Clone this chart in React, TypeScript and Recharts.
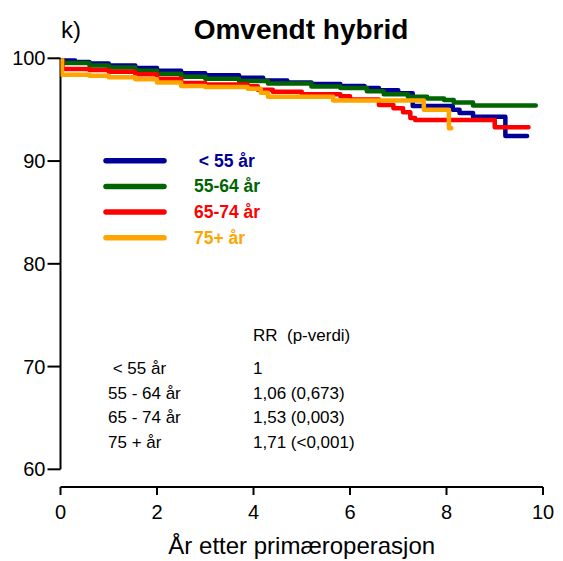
import React from 'react'
import { LineChart, Line, XAxis, YAxis, ReferenceLine, Legend, Label } from 'recharts'

// Kaplan-Meier step points (years, % without revision)
const T_LT55 = [0, 0.05, 0.3, 0.6, 1.0, 1.55, 2.0, 2.5, 3.0, 3.7, 4.2, 4.7, 5.2, 5.8, 6.3, 6.6, 7.0, 7.3, 8.13, 8.27, 8.55, 9.22, 9.67]
const S_LT55 = [100, 99.8, 99.65, 99.5, 99.3, 99.05, 98.8, 98.55, 98.35, 98.1, 97.85, 97.65, 97.5, 97.3, 97.1, 96.9, 96.6, 95.35, 95.0, 94.68, 94.32, 92.45, 92.45]

const T_55_64 = [0, 0.05, 0.6, 1.0, 1.55, 2.0, 2.5, 3.0, 3.7, 4.3, 5.2, 5.8, 6.35, 6.7, 7.2, 7.6, 7.95, 8.15, 8.55, 9.85]
const S_55_64 = [100, 99.55, 99.3, 99.1, 98.8, 98.5, 98.2, 98.0, 97.8, 97.55, 97.25, 97.1, 96.8, 96.5, 96.25, 96.1, 95.95, 95.7, 95.4, 95.4]

const T_65_74 = [0, 0.04, 0.6, 1.0, 1.55, 2.0, 2.5, 3.0, 3.88, 4.09, 4.4, 5.0, 5.8, 6.0, 6.6, 6.9, 7.1, 7.25, 7.35, 9.0, 9.7]
const S_65_74 = [100, 98.95, 98.85, 98.7, 98.45, 98.0, 97.6, 97.45, 97.27, 96.95, 96.75, 96.5, 96.3, 96.0, 95.45, 95.15, 94.75, 94.2, 94.0, 93.3, 93.3]

const T_75 = [0, 0.03, 0.6, 1.0, 1.55, 2.0, 2.5, 3.0, 3.88, 4.15, 4.3, 5.65, 7.53, 8.05, 8.1]
const S_75 = [100, 98.4, 98.3, 98.15, 97.95, 97.65, 97.3, 97.2, 97.04, 96.65, 96.25, 95.9, 95.0, 93.2, 93.2]

const LEGEND_LABELS = ['\u00a0< 55 år', '55-64 år', '65-74 år', '75+ år']
const COLORS = ['#000096', '#006400', '#ff0000', '#ffa500']

const X_TICKS = [0, 2, 4, 6, 8, 10]
const Y_TICKS = [60, 70, 80, 90, 100]

const RR_GROUPS = ['\u00a0< 55 år', '55 - 64 år', '65 - 74 år', '75 + år']
const RR_VALUES = ['1', '1,06 (0,673)', '1,53 (0,003)', '1,71 (<0,001)']

const FONT = 'Arial, "Liberation Sans", Helvetica, sans-serif'

const toRows = (t: number[], s: number[]) => t.map((x, i) => ({ t: x, s: s[i] }))

const SERIES = [
  { name: LEGEND_LABELS[0], data: toRows(T_LT55, S_LT55) },
  { name: LEGEND_LABELS[1], data: toRows(T_55_64, S_55_64) },
  { name: LEGEND_LABELS[2], data: toRows(T_65_74, S_65_74) },
  { name: LEGEND_LABELS[3], data: toRows(T_75, S_75) },
]

const LegendBox = () => (
  <svg width={200} height={110} style={{ overflow: 'visible' }}>
    {LEGEND_LABELS.map((label, i) => {
      const y = 15.7 + i * 25.7
      return (
        <g key={label}>
          <line x1={8} x2={66} y1={y} y2={y} stroke={COLORS[i]} strokeWidth={5.5} strokeLinecap="round" />
          <text x={96} y={y + 6} fill={COLORS[i]} fontSize={17.5} fontWeight="bold" fontFamily={FONT} style={{ whiteSpace: 'pre' }}>
            {label}
          </text>
        </g>
      )
    })}
  </svg>
)

export default function App() {
  return (
    <div style={{ position: 'absolute', left: 0, top: 0, width: 563, height: 561, background: '#fff', fontFamily: FONT }}>
      <LineChart width={563} height={561} margin={{ top: 58.3, right: 20, bottom: 4, left: 10.5 }}>
        <XAxis
          type="number"
          dataKey="t"
          domain={[0, 10]}
          ticks={X_TICKS}
          allowDataOverflow
          height={70}
          axisLine={{ stroke: '#000', strokeWidth: 2 }}
          tickLine={{ stroke: '#000', strokeWidth: 2 }}
          tickSize={8}
          tickMargin={10}
          tick={{ fill: '#000', fontSize: 20, fontFamily: FONT }}
        >
          <Label value="År etter primæroperasjon" position="insideBottom" offset={3} fill="#000" fontSize={24} fontFamily={FONT} />
        </XAxis>
        <YAxis
          type="number"
          domain={[58.28, 100]}
          ticks={Y_TICKS}
          allowDataOverflow
          width={50}
          axisLine={false}
          tickLine={{ stroke: '#000', strokeWidth: 2 }}
          tickSize={13}
          tickMargin={2}
          tick={{ fill: '#000', fontSize: 20, fontFamily: FONT }}
        />
        <ReferenceLine segment={[{ x: 0, y: 60 }, { x: 0, y: 100 }]} stroke="#000" strokeWidth={2} ifOverflow="visible" />
        {SERIES.map((s, i) => (
          <Line
            key={s.name}
            data={s.data}
            dataKey="s"
            name={s.name}
            type="stepAfter"
            stroke={COLORS[i]}
            strokeWidth={4.5}
            strokeLinecap="round"
            strokeLinejoin="round"
            dot={false}
            activeDot={false}
            isAnimationActive={false}
          />
        ))}
        <Legend
          layout="vertical"
          align="center"
          verticalAlign="middle"
          content={<LegendBox />}
          wrapperStyle={{ left: 98, top: 145, width: 200, height: 110 }}
        />
      </LineChart>
      <svg width={563} height={561} style={{ position: 'absolute', left: 0, top: 0, pointerEvents: 'none' }}>
        <text x={61} y={38} fontSize={24} fill="#000" fontFamily={FONT}>k)</text>
        <text x={301} y={39} fontSize={28} fontWeight="bold" textAnchor="middle" fill="#000" fontFamily={FONT}>Omvendt hybrid</text>
        <text x={253} y={341} fontSize={17} fill="#000" fontFamily={FONT} style={{ whiteSpace: 'pre' }}>RR  (p-verdi)</text>
        {RR_GROUPS.map((g, i) => (
          <g key={g}>
            <text x={108} y={374 + i * 24.5} fontSize={17} fill="#000" fontFamily={FONT} style={{ whiteSpace: 'pre' }}>{g}</text>
            <text x={253} y={374 + i * 24.5} fontSize={17} fill="#000" fontFamily={FONT}>{RR_VALUES[i]}</text>
          </g>
        ))}
      </svg>
    </div>
  )
}
